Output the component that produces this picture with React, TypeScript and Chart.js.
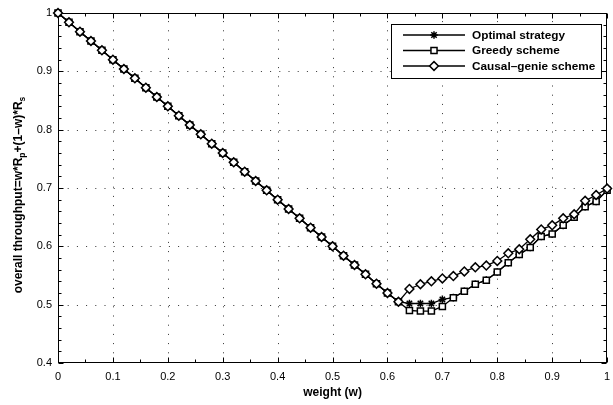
import React, { useEffect, useRef } from "react";
import { Chart, registerables } from "chart.js";
import { drawPoint } from "chart.js/helpers";

Chart.register(...registerables);

// ---------- data ----------
const weights = [
  0, 0.02, 0.04, 0.06, 0.08, 0.1, 0.12, 0.14, 0.16, 0.18,
  0.2, 0.22, 0.24, 0.26, 0.28, 0.3, 0.32, 0.34, 0.36, 0.38,
  0.4, 0.42, 0.44, 0.46, 0.48, 0.5, 0.52, 0.54, 0.56, 0.58,
  0.6, 0.62, 0.64, 0.66, 0.68, 0.7, 0.72, 0.74, 0.76, 0.78,
  0.8, 0.82, 0.84, 0.86, 0.88, 0.9, 0.92, 0.94, 0.96, 0.98, 1.0,
];

const optimalStrategy = [
  1.0, 0.984, 0.968, 0.952, 0.936, 0.92, 0.904, 0.888, 0.872, 0.856,
  0.84, 0.824, 0.808, 0.792, 0.776, 0.76, 0.744, 0.728, 0.712, 0.696,
  0.68, 0.664, 0.648, 0.632, 0.616, 0.6, 0.584, 0.568, 0.552, 0.536,
  0.52, 0.505, 0.502, 0.502, 0.502, 0.509, 0.512, 0.523, 0.535, 0.542,
  0.556, 0.572, 0.586, 0.598, 0.617, 0.621, 0.636, 0.65, 0.668, 0.677, 0.696,
];

const greedyScheme = [
  1.0, 0.984, 0.968, 0.952, 0.936, 0.92, 0.904, 0.888, 0.872, 0.856,
  0.84, 0.824, 0.808, 0.792, 0.776, 0.76, 0.744, 0.728, 0.712, 0.696,
  0.68, 0.664, 0.648, 0.632, 0.616, 0.6, 0.584, 0.568, 0.552, 0.536,
  0.52, 0.505, 0.49, 0.489, 0.489, 0.497, 0.512, 0.523, 0.535, 0.542,
  0.556, 0.572, 0.586, 0.598, 0.617, 0.621, 0.636, 0.65, 0.668, 0.677, 0.696,
];

const causalGenieScheme = [
  1.0, 0.984, 0.968, 0.952, 0.936, 0.92, 0.904, 0.888, 0.872, 0.856,
  0.84, 0.824, 0.808, 0.792, 0.776, 0.76, 0.744, 0.728, 0.712, 0.696,
  0.68, 0.664, 0.648, 0.632, 0.616, 0.6, 0.584, 0.568, 0.552, 0.536,
  0.52, 0.505, 0.527, 0.535, 0.54, 0.545, 0.549, 0.557, 0.564, 0.567,
  0.575, 0.588, 0.595, 0.612, 0.629, 0.636, 0.648, 0.655, 0.678, 0.688, 0.699,
];

const seriesLabels = ["Optimal strategy", "Greedy scheme", "Causal\u2013genie scheme"];

const xMajorTicks = [0, 0.1, 0.2, 0.3, 0.4, 0.5, 0.6, 0.7, 0.8, 0.9, 1];
const xTickLabels = ["0", "0.1", "0.2", "0.3", "0.4", "0.5", "0.6", "0.7", "0.8", "0.9", "1"];
const xMinorTicks = [0.05, 0.15, 0.25, 0.35, 0.45, 0.55, 0.65, 0.75, 0.85, 0.95];

const yMajorTicks = [0.4, 0.5, 0.6, 0.7, 0.8, 0.9, 1];
const yTickLabels = ["0.4", "0.5", "0.6", "0.7", "0.8", "0.9", "1"];
const yMinorTicks = [
  0.42, 0.44, 0.46, 0.48, 0.52, 0.54, 0.56, 0.58, 0.62, 0.64, 0.66, 0.68,
  0.72, 0.74, 0.76, 0.78, 0.82, 0.84, 0.86, 0.88, 0.92, 0.94, 0.96, 0.98,
];

const xTitle = "weight (w)";
const yTitleParts = [
  { text: "overall throughput=w*R", sub: false },
  { text: "p", sub: true },
  { text: "+(1\u2013w)*R", sub: false },
  { text: "s", sub: true },
];

const FONT = "'Liberation Sans', Arial, Helvetica, sans-serif";

const seriesStyles = [
  { pointStyle: "star", radius: 3.8, order: 3 },
  { pointStyle: "rect", radius: 4.3, order: 2 },
  { pointStyle: "rectRot", radius: 4.4, order: 1 },
];

const framePlugin = {
  id: "matlabFrame",
  beforeDatasetsDraw(chart: any) {
    const { ctx, chartArea: a } = chart;
    const xs = chart.scales.x;
    const ys = chart.scales.y;
    const L = Math.round(a.left) + 0.5;
    const R = Math.round(a.right) - 0.5;
    const T = Math.round(a.top) + 0.5;
    const B = Math.round(a.bottom) - 0.5;
    ctx.save();
    ctx.strokeStyle = "#333";
    ctx.lineWidth = 1;
    ctx.setLineDash([1, 8.2]);
    for (const v of xMajorTicks) {
      const px = Math.round(xs.getPixelForValue(v)) + 0.5;
      if (px <= L + 2 || px >= R - 2) continue;
      ctx.beginPath();
      ctx.moveTo(px, B);
      ctx.lineTo(px, T);
      ctx.stroke();
    }
    for (const v of yMajorTicks) {
      const py = Math.round(ys.getPixelForValue(v)) + 0.5;
      if (py <= T + 2 || py >= B - 2) continue;
      ctx.beginPath();
      ctx.moveTo(L, py);
      ctx.lineTo(R, py);
      ctx.stroke();
    }
    ctx.setLineDash([]);
    ctx.strokeStyle = "#000";
    ctx.lineWidth = 1;
    const tick = (x1: number, y1: number, x2: number, y2: number) => {
      ctx.beginPath();
      ctx.moveTo(x1, y1);
      ctx.lineTo(x2, y2);
      ctx.stroke();
    };
    for (const v of xMajorTicks) {
      const px = Math.round(xs.getPixelForValue(v)) + 0.5;
      tick(px, B, px, B - 5);
      tick(px, T, px, T + 5);
    }
    for (const v of xMinorTicks) {
      const px = Math.round(xs.getPixelForValue(v)) + 0.5;
      tick(px, B, px, B - 3);
      tick(px, T, px, T + 3);
    }
    for (const v of yMajorTicks) {
      const py = Math.round(ys.getPixelForValue(v)) + 0.5;
      tick(L, py, L + 5, py);
      tick(R, py, R - 5, py);
    }
    for (const v of yMinorTicks) {
      const py = Math.round(ys.getPixelForValue(v)) + 0.5;
      tick(L, py, L + 3, py);
      tick(R, py, R - 3, py);
    }
    ctx.strokeRect(L, T, R - L, B - T);
    ctx.restore();
  },
  afterDraw(chart: any) {
    const { ctx, chartArea: a } = chart;
    ctx.save();
    ctx.fillStyle = "#000";
    ctx.font = `bold 12px ${FONT}`;
    ctx.textAlign = "center";
    ctx.textBaseline = "middle";
    ctx.fillText(xTitle, (a.left + a.right) / 2, 393);

    const mainFont = `bold 12px ${FONT}`;
    const subFont = `bold 8.5px ${FONT}`;
    let total = 0;
    const widths = yTitleParts.map((p) => {
      ctx.font = p.sub ? subFont : mainFont;
      const w = ctx.measureText(p.text).width;
      total += w;
      return w;
    });
    ctx.translate(22, 195);
    ctx.rotate(-Math.PI / 2);
    ctx.textAlign = "left";
    ctx.textBaseline = "alphabetic";
    let u = -total / 2;
    yTitleParts.forEach((p, i) => {
      ctx.font = p.sub ? subFont : mainFont;
      ctx.fillText(p.text, u, p.sub ? 3 : 0);
      u += widths[i];
    });
    ctx.restore();

    // legend
    ctx.save();
    const bx = 391.5, by = 24.5, bw = 210, bh = 54;
    ctx.fillStyle = "#fff";
    ctx.fillRect(bx, by, bw, bh);
    ctx.strokeStyle = "#000";
    ctx.lineWidth = 1;
    ctx.strokeRect(bx, by, bw, bh);
    const rows = [35, 50.5, 66];
    seriesLabels.forEach((label, i) => {
      const ry = rows[i];
      ctx.strokeStyle = "#000";
      ctx.lineWidth = 1.3;
      ctx.beginPath();
      ctx.moveTo(403, ry);
      ctx.lineTo(465, ry);
      ctx.stroke();
      ctx.fillStyle = i === 0 ? "#000" : "#fff";
      ctx.lineWidth = 1.5;
      drawPoint(ctx, { pointStyle: seriesStyles[i].pointStyle, radius: seriesStyles[i].radius, rotation: 0, borderWidth: 1.5 } as any, 434, ry);
      ctx.fillStyle = "#000";
      ctx.font = `bold 11.8px ${FONT}`;
      ctx.textAlign = "left";
      ctx.textBaseline = "middle";
      ctx.fillText(label, 472, ry + 0.5);
    });
    ctx.restore();
  },
};

export default function App() {
  const canvasRef = useRef<HTMLCanvasElement | null>(null);

  useEffect(() => {
    const canvas = canvasRef.current;
    if (!canvas) return;
    const series = [optimalStrategy, greedyScheme, causalGenieScheme];
    const chart = new Chart(canvas, {
      type: "line",
      data: {
        datasets: series.map((vals, i) => ({
          label: seriesLabels[i],
          order: seriesStyles[i].order,
          data: weights.map((w, j) => ({ x: w, y: vals[j] })),
          borderColor: "#000",
          borderWidth: 1.3,
          tension: 0,
          fill: false,
          clip: false,
          pointStyle: seriesStyles[i].pointStyle as any,
          pointRadius: seriesStyles[i].radius,
          pointHoverRadius: seriesStyles[i].radius,
          pointBorderColor: "#000",
          pointBackgroundColor: i === 0 ? "#000" : "#fff",
          pointBorderWidth: 1.5,
        })),
      },
      options: {
        animation: false,
        responsive: false,
        devicePixelRatio: 1,
        events: [],
        layout: { padding: { left: 0, right: 2, top: 13, bottom: 0 } },
        plugins: {
          legend: { display: false },
          tooltip: { enabled: false },
          title: { display: false },
        },
        scales: {
          x: {
            type: "linear",
            min: 0,
            max: 1,
            grid: { display: false, drawTicks: false },
            border: { display: false },
            afterBuildTicks: (scale: any) => {
              scale.ticks = xMajorTicks.map((v) => ({ value: v }));
            },
            afterFit: (scale: any) => {
              scale.height = 42;
              scale.paddingLeft = 0;
              scale.paddingRight = 0;
            },
            ticks: {
              autoSkip: false,
              maxRotation: 0,
              minRotation: 0,
              padding: 7,
              color: "#000",
              font: { family: FONT, size: 11 },
              callback: (v: any) => {
                const idx = xMajorTicks.findIndex((t) => Math.abs(t - Number(v)) < 1e-9);
                return idx >= 0 ? xTickLabels[idx] : "";
              },
            },
          },
          y: {
            type: "linear",
            min: 0.4,
            max: 1,
            grid: { display: false, drawTicks: false },
            border: { display: false },
            afterBuildTicks: (scale: any) => {
              scale.ticks = yMajorTicks.map((v) => ({ value: v }));
            },
            afterFit: (scale: any) => {
              scale.width = 58;
              scale.paddingTop = 0;
              scale.paddingBottom = 0;
            },
            ticks: {
              autoSkip: false,
              padding: 6,
              color: "#000",
              font: { family: FONT, size: 11 },
              callback: (v: any) => {
                const idx = yMajorTicks.findIndex((t) => Math.abs(t - Number(v)) < 1e-9);
                return idx >= 0 ? yTickLabels[idx] : "";
              },
            },
          },
        },
      },
      plugins: [framePlugin],
    });
    return () => chart.destroy();
  }, []);

  return (
    <div style={{ position: "absolute", left: 0, top: 0, width: 613, height: 405, background: "#fff" }}>
      <canvas ref={canvasRef} width={613} height={405} style={{ display: "block" }} />
    </div>
  );
}
